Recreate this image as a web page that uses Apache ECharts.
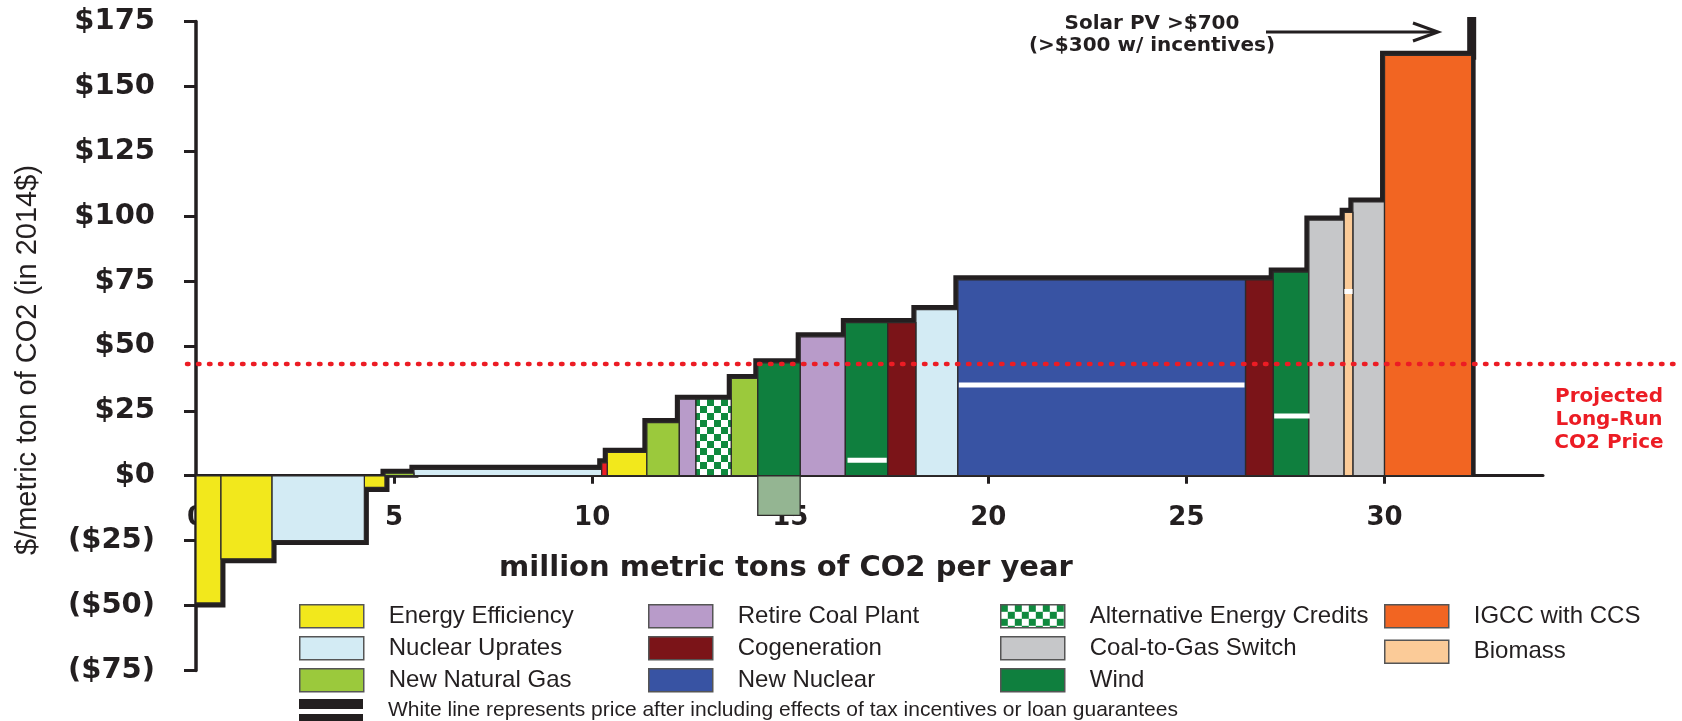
<!DOCTYPE html>
<html>
<head>
<meta charset="utf-8">
<title>CO2 abatement cost curve</title>
<script src="https://cdn.jsdelivr.net/npm/echarts@6/dist/echarts.min.js"></script>
<style>
  html, body { margin: 0; padding: 0; background: #fff; }
  #main { width: 1682px; height: 721px; }
</style>
</head>
<body>
<div id="main"></div>
<script>
// abatement options, left to right along the curve
const techs = ['Energy Efficiency', 'Energy Efficiency', 'Nuclear Uprates', 'Energy Efficiency', 'New Natural Gas',
  'Nuclear Uprates', 'Other', 'Energy Efficiency', 'New Natural Gas', 'Retire Coal Plant',
  'Alternative Energy Credits', 'New Natural Gas', 'Wind', 'Retire Coal Plant', 'Wind',
  'Cogeneration', 'Nuclear Uprates', 'New Nuclear', 'Cogeneration', 'Wind',
  'Coal-to-Gas Switch', 'Biomass', 'Coal-to-Gas Switch', 'IGCC with CCS', 'Solar PV'];
const starts = [0, 0.63, 1.92, 4.25, 4.77, 5.5, 10.24, 10.38, 11.38, 12.2,
  12.62, 13.51, 14.18, 15.25, 16.39, 17.46, 18.17, 19.23, 26.49, 27.19,
  28.09, 28.98, 29.2, 30.0, 32.2];
const ends = [0.63, 1.92, 4.25, 4.77, 5.5, 10.24, 10.38, 11.38, 12.2, 12.62,
  13.51, 14.18, 15.25, 16.39, 17.46, 18.17, 19.23, 26.49, 27.19, 28.09,
  28.98, 29.2, 30.0, 32.2, 32.3];
const costs = [-49, -32, -25, -4.5, 1, 2.5, 5, 9, 20.5, 29.5,
  29.5, 37.5, 43.5, 53.5, 59, 59, 64, 75.5, 75.5, 78.5,
  98.5, 101.5, 105.5, 162, 700];

// wind block shown below zero
const creditStart = [14.18];
const creditEnd = [15.25];
const creditCost = [-15.3];

// white lines: price after incentives
const incStart = [16.42, 19.23, 27.19, 28.96];
const incEnd = [17.46, 26.49, 28.14, 29.22];
const incCost = [6, 35, 23, 71];

const projectedPrice = 43;
const xTicks = [0, 5, 10, 15, 20, 25, 30];
const yMin = -75, yMax = 175;

const legendCols = [
  ['Energy Efficiency', 'Nuclear Uprates', 'New Natural Gas'],
  ['Retire Coal Plant', 'Cogeneration', 'New Nuclear'],
  ['Alternative Energy Credits', 'Coal-to-Gas Switch', 'Wind'],
  ['IGCC with CCS', 'Biomass']
];
const whiteLineName = 'White line represents price after including effects of tax incentives or loan guarantees';

// checker pattern for the credits block
const checker = document.createElement('canvas');
checker.width = 14; checker.height = 14;
(function () {
  const c = checker.getContext('2d');
  c.fillStyle = '#ffffff'; c.fillRect(0, 0, 14, 14);
  c.fillStyle = '#0f8a3e'; c.fillRect(0, 0, 7, 7); c.fillRect(7, 7, 7, 7);
})();

// legend icon for the white line
const stripe = document.createElement('canvas');
stripe.width = 64; stripe.height = 23;
(function () {
  const c = stripe.getContext('2d');
  c.fillStyle = '#231f20'; c.fillRect(0, 0, 64, 23);
  c.fillStyle = '#ffffff'; c.fillRect(0, 10, 64, 5);
})();

const colors = {
  'Energy Efficiency': '#f2e81c',
  'Nuclear Uprates': '#d3ebf4',
  'New Natural Gas': '#9bc93c',
  'Retire Coal Plant': '#b89bc9',
  'Cogeneration': '#7b1418',
  'New Nuclear': '#3853a3',
  'Alternative Energy Credits': { image: checker, repeat: 'repeat' },
  'Coal-to-Gas Switch': '#c6c7c9',
  'Wind': '#0f7f3e',
  'IGCC with CCS': '#f26522',
  'Biomass': '#fbcb98',
  'Other': '#ec1c24',
  'Solar PV': '#231f20'
};

const ink = '#231f20';

function renderBar(params, api) {
  const a = api.coord([api.value(0), api.value(2)]);
  const b = api.coord([api.value(1), 0]);
  return {
    type: 'rect',
    shape: { x: a[0], y: Math.min(a[1], b[1]), width: b[0] - a[0], height: Math.abs(b[1] - a[1]) },
    style: api.style()
  };
}

const series = [];

// thick step outline drawn under the blocks
const outline = [];
techs.forEach((t, i) => {
  outline.push([starts[i], costs[i]], [ends[i], costs[i]]);
});
series.push({
  name: 'outline', type: 'line', data: outline, symbol: 'none', silent: true, z: 1,
  lineStyle: { color: ink, width: 9, join: 'miter', cap: 'butt' }
});

const names = [];
techs.forEach(t => { if (names.indexOf(t) < 0) names.push(t); });
names.forEach(name => {
  const rows = [];
  techs.forEach((t, i) => { if (t === name) rows.push([starts[i], ends[i], costs[i]]); });
  series.push({
    name: name, type: 'custom', renderItem: renderBar, clip: true, z: 2,
    encode: { x: [0, 1], y: 2 },
    itemStyle: { color: colors[name], borderColor: '#2d2a2a', borderWidth: name === 'Solar PV' ? 0 : 1.3 },
    data: rows
  });
});

series.push({
  name: 'Wind credit', type: 'custom', renderItem: renderBar, clip: true, z: 2,
  encode: { x: [0, 1], y: 2 },
  itemStyle: { color: '#94b592', borderColor: '#2d2a2a', borderWidth: 1.3 },
  data: creditStart.map((s, i) => [s, creditEnd[i], creditCost[i]])
});

series.push({
  name: whiteLineName, type: 'custom', z: 3, clip: true,
  encode: { x: [0, 1], y: 2 },
  itemStyle: { color: ink },
  renderItem: function (params, api) {
    const a = api.coord([api.value(0), api.value(2)]);
    const b = api.coord([api.value(1), api.value(2)]);
    return { type: 'line', shape: { x1: a[0] + 1, y1: a[1], x2: b[0] - 1, y2: b[1] },
      style: { stroke: '#ffffff', lineWidth: 5 } };
  },
  data: incStart.map((s, i) => [s, incEnd[i], incCost[i]])
});

series.push({
  name: 'Projected Long-Run CO2 Price', type: 'custom', z: 4, clip: false,
  encode: { x: 0, y: 1 },
  renderItem: function (params, api) {
    const y = api.coord([0, api.value(1)])[1];
    return { type: 'line', shape: { x1: params.coordSys.x - 9, y1: y, x2: 1675, y2: y },
      style: { stroke: '#ec1c24', lineWidth: 4.5, lineDash: [1.5, 9.5], lineCap: 'round' } };
  },
  data: [[0, projectedPrice]]
});

const legendText = { fontFamily: 'Liberation Sans', fontSize: 24, color: ink, padding: [0, 0, 0, 20], lineHeight: 23 };
const legendLeft = [299, 648, 1000, 1384];
const legends = legendCols.map((col, k) => ({
  orient: 'vertical', left: legendLeft[k], top: 604, icon: 'rect', padding: 0,
  itemWidth: 64, itemHeight: 23, itemGap: k === 3 ? 11 : 7.5, selectedMode: false,
  itemStyle: { borderColor: '#555', borderWidth: 1.5 },
  textStyle: legendText, data: col
}));
legends.push({
  orient: 'vertical', left: 299, top: 699, itemWidth: 64, itemHeight: 23, selectedMode: false, padding: 0,
  textStyle: Object.assign({}, legendText, { fontSize: 21 }),
  data: [{ name: whiteLineName, icon: 'image://' + stripe.toDataURL() }]
});

// grid geometry; the x axis is lifted from the grid bottom to the zero line
const gridTop = 21.5, gridBottom = 50.6;
const plotH = 721 - gridTop - gridBottom;
const zeroLift = plotH * (0 - yMin) / (yMax - yMin);

const chart = echarts.init(document.getElementById('main'));
chart.setOption({
  animation: false,
  backgroundColor: '#ffffff',
  grid: { left: 196, right: 139, top: gridTop, bottom: gridBottom, containLabel: false, outerBoundsMode: 'none' },
  xAxis: {
    type: 'value', min: 0, max: 34, interval: 5, position: 'bottom', offset: -zeroLift,
    axisLine: { onZero: false, lineStyle: { color: ink, width: 3 } },
    axisTick: { customValues: xTicks, length: 8, lineStyle: { color: ink, width: 3 } },
    axisLabel: { customValues: xTicks, margin: 30, color: ink, fontFamily: 'DejaVu Sans', fontWeight: 'bold', fontSize: 26 },
    splitLine: { show: false }
  },
  yAxis: {
    type: 'value', min: yMin, max: yMax, interval: 25,
    axisLine: { show: true, onZero: false, lineStyle: { color: ink, width: 3.5 } },
    axisTick: { show: true, length: 12, lineStyle: { color: ink, width: 3 } },
    axisLabel: {
      margin: 41, color: ink, fontFamily: 'DejaVu Sans', fontWeight: 'bold', fontSize: 29,
      formatter: v => v < 0 ? '($' + (-v) + ')' : '$' + v
    },
    splitLine: { show: false }
  },
  legend: legends,
  series: series,
  graphic: [
    { type: 'text', x: 28, y: 360, rotation: Math.PI / 2,
      style: { text: '$/metric ton of CO2 (in 2014$)', font: '29px "Liberation Sans"', fill: ink, align: 'center', verticalAlign: 'middle' } },
    { type: 'text', x: 786, y: 568,
      style: { text: 'million metric tons of CO2 per year', font: 'bold 29px "DejaVu Sans"', fill: ink, align: 'center', verticalAlign: 'middle' } },
    { type: 'text', x: 1152, y: 24,
      style: { text: 'Solar PV >$700', font: 'bold 20px "DejaVu Sans"', fill: ink, align: 'center', verticalAlign: 'middle' } },
    { type: 'text', x: 1152, y: 46,
      style: { text: '(>$300 w/ incentives)', font: 'bold 20px "DejaVu Sans"', fill: ink, align: 'center', verticalAlign: 'middle' } },
    { type: 'line', shape: { x1: 1266, y1: 32, x2: 1437, y2: 32 }, style: { stroke: ink, lineWidth: 3 } },
    { type: 'polyline', shape: { points: [[1413, 23], [1438, 32], [1413, 41]] }, style: { stroke: ink, lineWidth: 3, fill: null } },
    { type: 'text', x: 1609, y: 420,
      style: { text: 'Projected\nLong-Run\nCO2 Price', font: 'bold 20px "DejaVu Sans"', fill: '#ec1c24', align: 'center', verticalAlign: 'middle', lineHeight: 23 } }
  ]
});
</script>
</body>
</html>
